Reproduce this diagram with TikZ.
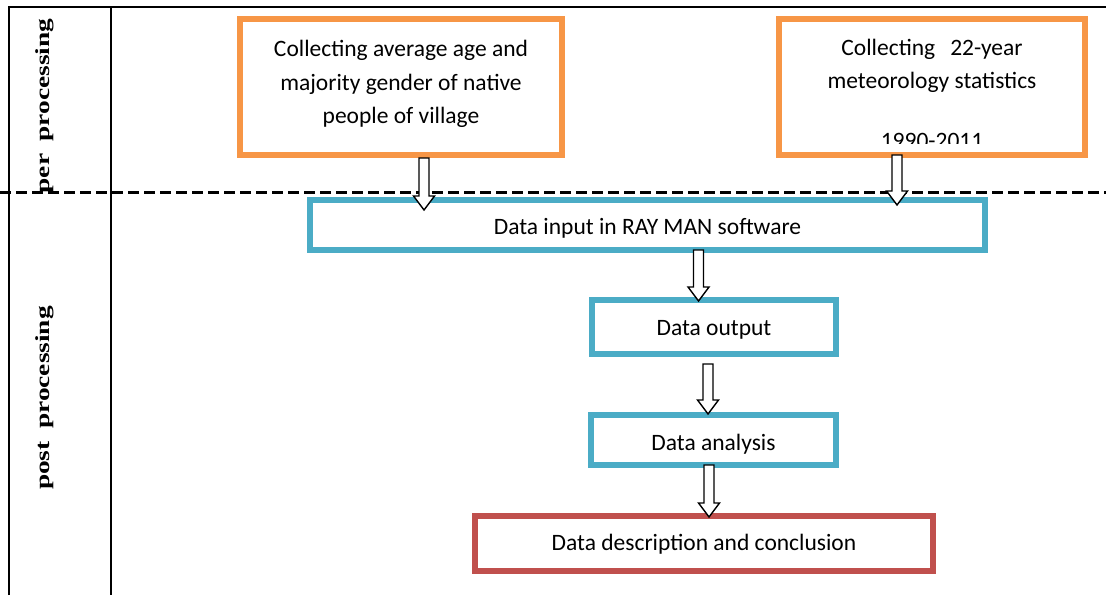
\documentclass[tikz,border=0pt]{standalone}
\usepackage{fontspec}
\setmainfont{Carlito}
\newfontfamily\labfont{Liberation Serif}
\usetikzlibrary{calc}
\definecolor{orng}{HTML}{F79646}
\definecolor{blu}{HTML}{4BACC6}
\definecolor{rd}{HTML}{C0504D}
\newcommand\hollowarrow[2]{\draw[harrow] let \p1=(#1), \p2=(#2) in
  (\x1-5pt,\y1) -- (\x1-5pt,\y2+14pt) -- (\x1-10.5pt,\y2+14pt) -- (\x1,\y2)
  -- (\x1+10.5pt,\y2+14pt) -- (\x1+5pt,\y2+14pt) -- (\x1+5pt,\y1) -- cycle;}
\begin{document}
\begin{tikzpicture}[x=1pt,y=-1pt,
  txt/.style={inner sep=0pt, font=\fontsize{23.5}{33.5}\selectfont},
  box/.style={draw, line width=6pt, fill=white, inner sep=0pt, align=center,
    font=\fontsize{23.5}{33.5}\selectfont},
  obox/.style={box, draw=orng},
  bbox/.style={box, draw=blu, text depth=3pt},
  rbox/.style={box, draw=rd, text depth=3pt},
  harrow/.style={draw=black, line width=1.4pt, fill=white, line join=miter},
  side/.style={rotate=90, inner sep=0pt, font=\fontsize{20}{22}\selectfont\labfont\bfseries},
  frame/.style={draw=black, line width=2.5pt},
  thinframe/.style={draw=black, line width=1.4pt},
  divider/.style={draw=black, line width=3pt, dash pattern=on 11pt off 5pt}]
\useasboundingbox (0,0) rectangle (1106,595);
\fill[white] (0,0) rectangle (1106,595);

% frame
\draw[frame] (9,595) -- (9,7) -- (1106,7);
\draw[thinframe] (111,7) -- (111,595);
\draw[divider] (0,192) -- (1106,192);

% side labels
\node[side] (lper) at (44.5,106) {\scalebox{1.37}[1]{per\hspace{4pt} processing}};
\node[side] (lpost) at (44.5,398) {\scalebox{1.37}[1]{post\hspace{4pt} processing}};

% boxes
\node[obox, minimum width=322pt, minimum height=136pt] (o1) at (401,87)
  {\raisebox{3.5pt}[\height][\depth]{\begin{tabular}{@{}c@{}}Collecting average age and\\majority gender of native\\people of village\end{tabular}}};
\node[obox, minimum width=306pt, minimum height=136pt] (o2) at (932,87) {};
\node[txt, anchor=base] (t2a) at (932,55) {Collecting\hspace{15pt}22-year};
\node[txt, anchor=base] (t2b) at (932,88.5) {meteorology statistics};
\begin{scope}
  \clip (782,22) rectangle (1082,143);
  \node[txt, anchor=base] (t2c) at (932,148) {1990-2011};
\end{scope}

\node[bbox, text height=21pt, minimum width=675pt, minimum height=50pt] (b1) at (647.5,225)
  {Data input in RAY MAN software};
\node[bbox, text height=20.4pt, minimum width=244pt, minimum height=54pt] (b2) at (714,327)
  {Data output};
\node[bbox, text height=23pt, minimum width=245pt, minimum height=50pt] (b3) at (713.5,440)
  {Data analysis};
\node[rbox, text height=16pt, minimum width=458pt, minimum height=55pt] (r1) at (704,543.5)
  {Data description and conclusion};

% arrows
\coordinate (a1s) at (o1.south -| 424,0);
\coordinate (a1e) at ($(b1.north -| 424,0)+(0,13)$);
\coordinate (a2s) at ($(o2.south -| 897,0)+(0,-3)$);
\coordinate (a2e) at ($(b1.north -| 897,0)+(0,8)$);
\coordinate (a3s) at ($(b1.south -| 698.5,0)+(0,-3)$);
\coordinate (a3e) at ($(b2.north -| 698.5,0)+(0,4)$);
\coordinate (a4s) at ($(b2.south -| 708,0)+(0,7)$);
\coordinate (a4e) at ($(b3.north -| 708,0)+(0,2)$);
\coordinate (a5s) at ($(b3.south -| 709,0)+(0,-3)$);
\coordinate (a5e) at ($(r1.north -| 709,0)+(0,4)$);
\hollowarrow{a1s}{a1e}
\hollowarrow{a2s}{a2e}
\hollowarrow{a3s}{a3e}
\hollowarrow{a4s}{a4e}
\hollowarrow{a5s}{a5e}
\end{tikzpicture}
\end{document}
